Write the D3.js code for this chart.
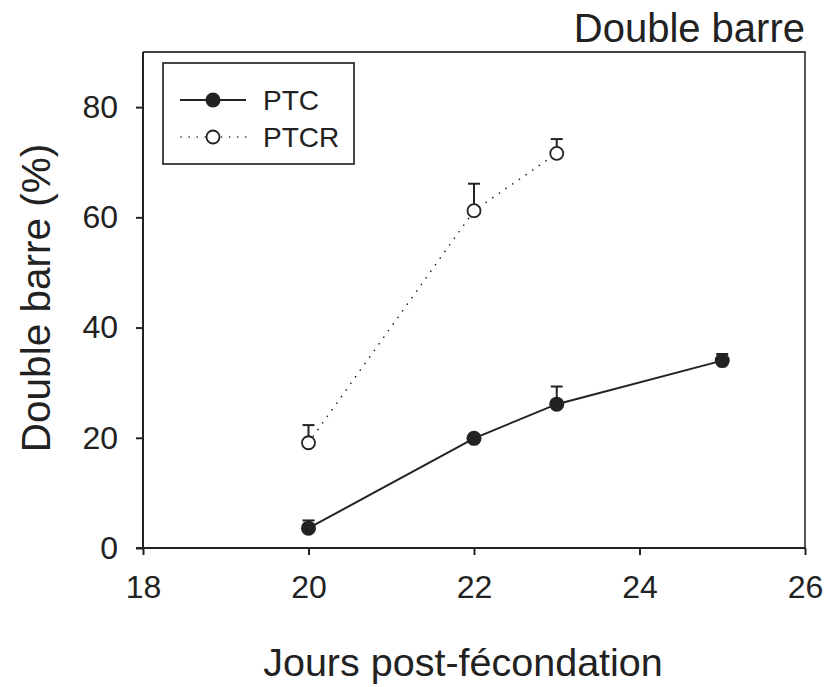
<!DOCTYPE html>
<html>
<head>
<meta charset="utf-8">
<script src="https://cdn.jsdelivr.net/npm/d3@7"></script>
<style>
  body { margin: 0; background: #fff; }
  text { font-family: "Liberation Sans", Arial, sans-serif; fill: #222; }
</style>
</head>
<body>
<div id="chart"></div>
<script>
const width = 826;
const height = 687;

// data
const ptcDays = [20, 22, 23, 25];
const ptcValues = [3.6, 19.9, 26.1, 34.0];
const ptcErrors = [1.4, 0.6, 3.2, 1.2];

const ptcrDays = [20, 22, 23];
const ptcrValues = [19.1, 61.2, 71.6];
const ptcrErrors = [3.2, 4.9, 2.6];

const xTicks = [18, 20, 22, 24, 26];
const yTicks = [0, 20, 40, 60, 80];

const ptc = ptcDays.map((d, i) => ({ x: d, y: ptcValues[i], e: ptcErrors[i] }));
const ptcr = ptcrDays.map((d, i) => ({ x: d, y: ptcrValues[i], e: ptcrErrors[i] }));

const plotLeft = 143, plotRight = 805, plotTop = 52, plotBottom = 548;
const ink = "#222";

const svg = d3.select("#chart")
  .append("svg")
  .attr("width", width)
  .attr("height", height);

const xScale = d3.scaleLinear().domain([18, 26]).range([plotLeft, plotRight]);
const yScale = d3.scaleLinear().domain([0, 90]).range([plotBottom, plotTop]);

// frame (top + right)
svg.append("path")
  .attr("d", `M${plotLeft},${plotTop}H${plotRight}V${plotBottom}`)
  .attr("fill", "none")
  .attr("stroke", "#444")
  .attr("stroke-width", 1.8);

const xAxis = d3.axisBottom(xScale).tickValues(xTicks).tickSize(7).tickPadding(20).tickFormat(d3.format("d"));
const yAxis = d3.axisLeft(yScale).tickValues(yTicks).tickSize(7).tickPadding(18);

svg.append("g")
  .attr("transform", `translate(0, ${plotBottom})`)
  .call(xAxis)
  .call(g => g.select(".domain").attr("d", `M${plotLeft - 7},0H${plotRight}`))
  .call(g => g.selectAll("line, path").attr("stroke", ink).attr("stroke-width", 2))
  .call(g => g.selectAll("text").attr("font-size", 32).attr("fill", ink)
    .attr("font-family", "Liberation Sans, Arial, sans-serif"));

svg.append("g")
  .attr("transform", `translate(${plotLeft}, 0)`)
  .call(yAxis)
  .call(g => g.select(".domain").attr("d", `M0,${plotTop}V${plotBottom}`))
  .call(g => g.selectAll("line, path").attr("stroke", ink).attr("stroke-width", 2))
  .call(g => g.selectAll("text").attr("font-size", 32).attr("fill", ink)
    .attr("font-family", "Liberation Sans, Arial, sans-serif"));

// titles
svg.append("text")
  .attr("x", plotRight).attr("y", 42)
  .attr("text-anchor", "end")
  .attr("font-size", 40)
  .text("Double barre");

svg.append("text")
  .attr("x", 463).attr("y", 676)
  .attr("text-anchor", "middle")
  .attr("font-size", 39.5)
  .text("Jours post-fécondation");

svg.append("text")
  .attr("transform", `translate(50, 298) rotate(-90)`)
  .attr("text-anchor", "middle")
  .attr("font-size", 40.5)
  .text("Double barre (%)");

const line = d3.line().x(d => xScale(d.x)).y(d => yScale(d.y));

// error bars (upper only)
function errorBars(data) {
  const g = svg.append("g").attr("stroke", ink).attr("stroke-width", 2);
  g.selectAll(".stem").data(data).enter().append("line")
    .attr("x1", d => xScale(d.x)).attr("x2", d => xScale(d.x))
    .attr("y1", d => yScale(d.y)).attr("y2", d => yScale(d.y + d.e));
  g.selectAll(".cap").data(data).enter().append("line")
    .attr("x1", d => xScale(d.x) - 6).attr("x2", d => xScale(d.x) + 6)
    .attr("y1", d => yScale(d.y + d.e)).attr("y2", d => yScale(d.y + d.e));
}
errorBars(ptcr);
errorBars(ptc);

svg.append("path")
  .datum(ptcr)
  .attr("d", line)
  .attr("fill", "none")
  .attr("stroke", ink)
  .attr("stroke-width", 1.6)
  .attr("stroke-linecap", "round")
  .attr("stroke-dasharray", "0.1,8");

svg.append("path")
  .datum(ptc)
  .attr("d", line)
  .attr("fill", "none")
  .attr("stroke", ink)
  .attr("stroke-width", 2);

svg.selectAll(".ptcr").data(ptcr).enter().append("circle")
  .attr("cx", d => xScale(d.x)).attr("cy", d => yScale(d.y))
  .attr("r", 6.5)
  .attr("fill", "#fff").attr("stroke", ink).attr("stroke-width", 1.8);

svg.selectAll(".ptc").data(ptc).enter().append("circle")
  .attr("cx", d => xScale(d.x)).attr("cy", d => yScale(d.y))
  .attr("r", 7.5)
  .attr("fill", ink);

// legend
const legend = svg.append("g");
legend.append("rect")
  .attr("x", 163).attr("y", 63).attr("width", 191).attr("height", 101)
  .attr("fill", "#fff").attr("stroke", "#333").attr("stroke-width", 1.8);

legend.append("line")
  .attr("x1", 180).attr("x2", 246).attr("y1", 100).attr("y2", 100)
  .attr("stroke", ink).attr("stroke-width", 2);
legend.append("circle").attr("cx", 213).attr("cy", 100).attr("r", 7.5).attr("fill", ink);
legend.append("text").attr("x", 263).attr("y", 110).attr("font-size", 28).text("PTC");

legend.append("line")
  .attr("x1", 181).attr("x2", 246).attr("y1", 137).attr("y2", 137)
  .attr("stroke", ink).attr("stroke-width", 1.6)
  .attr("stroke-linecap", "round").attr("stroke-dasharray", "0.1,8");
legend.append("circle").attr("cx", 213).attr("cy", 137).attr("r", 6.5)
  .attr("fill", "#fff").attr("stroke", ink).attr("stroke-width", 1.8);
legend.append("text").attr("x", 263).attr("y", 147).attr("font-size", 28).text("PTCR");
</script>
</body>
</html>
